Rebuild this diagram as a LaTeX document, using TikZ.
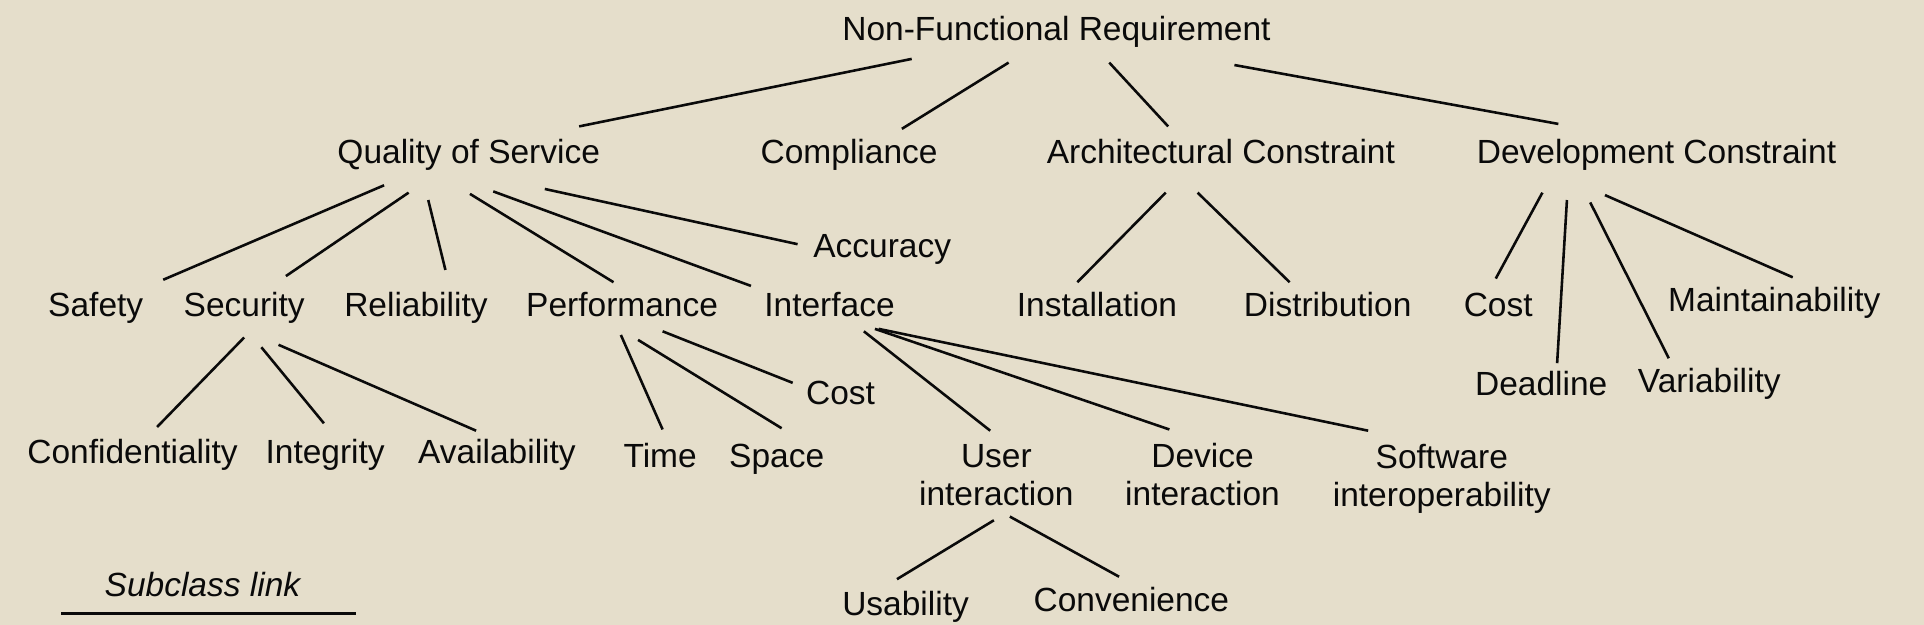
\documentclass[tikz,border=0pt]{standalone}
\usepackage{fontspec}
\setmainfont{Liberation Sans}
\definecolor{bg}{RGB}{229,222,203}
\definecolor{ink}{RGB}{10,10,10}
\begin{document}
\begin{tikzpicture}[x=1pt,y=-1pt,
  lbl/.style={inner sep=0pt,anchor=base,text=ink,font=\fontsize{27.3}{31}\selectfont},
  lbl2/.style={inner sep=0pt,anchor=center,align=center,text=ink,font=\fontsize{27.3}{31}\selectfont},
  link/.style={draw=ink,line width=2.1pt}]
\fill[bg] (0,0) rectangle (1568,509);
\useasboundingbox (0,0) rectangle (1568,509);
% nodes
\node[lbl] (nfr) at (861,33) {Non-Functional Requirement};
\node[lbl] (qos) at (382,133) {Quality of Service};
\node[lbl] (comp) at (692,133) {Compliance};
\node[lbl] (arch) at (995,133) {Architectural Constraint};
\node[lbl] (dev) at (1350,133) {Development Constraint};
\node[lbl] (safety) at (78,258) {Safety};
\node[lbl] (sec) at (199,258) {Security};
\node[lbl] (reli) at (339,258) {Reliability};
\node[lbl] (perf) at (507,258) {Performance};
\node[lbl] (iface) at (676,258) {Interface};
\node[lbl] (acc) at (719,210) {Accuracy};
\node[lbl] (inst) at (894,258) {Installation};
\node[lbl] (dist) at (1082,258) {Distribution};
\node[lbl] (dcost) at (1221,258) {Cost};
\node[lbl] (maint) at (1446,254) {Maintainability};
\node[lbl] (conf) at (108,378) {Confidentiality};
\node[lbl] (integ) at (265,378) {Integrity};
\node[lbl] (avail) at (405,378) {Availability};
\node[lbl] (time) at (538,381) {Time};
\node[lbl] (space) at (633,381) {Space};
\node[lbl] (pcost) at (685,330) {Cost};
\node[lbl] (deadl) at (1256,322) {Deadline};
\node[lbl] (vari) at (1393,320) {Variability};
\node[lbl2] (user) at (812,387) {User\\interaction};
\node[lbl2] (device) at (980,387) {Device\\interaction};
\node[lbl2] (soft) at (1175,390) {Software\\interoperability};
\node[lbl] (usab) at (738,502) {Usability};
\node[lbl] (conv) at (922,498) {Convenience};
\node[lbl,font=\fontsize{27.3}{31}\selectfont\itshape] (legend) at (165,486) {Subclass link};
\coordinate (legA) at (50,500);
\coordinate (legB) at (290,500);
% connectors
\draw[link] ([shift={(-118,15)}]nfr.base) -- ([shift={(90,-30)}]qos.base);
\draw[link] ([shift={(-39,18)}]nfr.base) -- ([shift={(43,-28)}]comp.base);
\draw[link] ([shift={(43,18)}]nfr.base) -- ([shift={(-43,-30)}]arch.base);
\draw[link] ([shift={(145,20)}]nfr.base) -- ([shift={(-80,-32)}]dev.base);
\draw[link] ([shift={(-69,18)}]qos.base) -- ([shift={(55,-30)}]safety.base);
\draw[link] ([shift={(-49,24)}]qos.base) -- ([shift={(34,-33)}]sec.base);
\draw[link] ([shift={(-33,30)}]qos.base) -- ([shift={(24,-38)}]reli.base);
\draw[link] ([shift={(1,25)}]qos.base) -- ([shift={(-7,-28)}]perf.base);
\draw[link] ([shift={(20,23)}]qos.base) -- ([shift={(-64,-25)}]iface.base);
\draw[link] ([shift={(62,21)}]qos.base) -- ([shift={(-69,-11)}]acc.base);
\draw[link] ([shift={(-45,24)}]arch.base) -- ([shift={(-16,-28)}]inst.base);
\draw[link] ([shift={(-19,24)}]arch.base) -- ([shift={(-31,-28)}]dist.base);
\draw[link] ([shift={(-93,24)}]dev.base) -- ([shift={(-2,-31)}]dcost.base);
\draw[link] ([shift={(-73,30)}]dev.base) -- ([shift={(13,-26)}]deadl.base);
\draw[link] ([shift={(-54,32)}]dev.base) -- ([shift={(-33,-28)}]vari.base);
\draw[link] ([shift={(-42,26)}]dev.base) -- ([shift={(15,-28)}]maint.base);
\draw[link] ([shift={(0,17)}]sec.base) -- ([shift={(20,-30)}]conf.base);
\draw[link] ([shift={(14,25)}]sec.base) -- ([shift={(-1,-33)}]integ.base);
\draw[link] ([shift={(28,23)}]sec.base) -- ([shift={(-17,-27)}]avail.base);
\draw[link] ([shift={(-1,15)}]perf.base) -- ([shift={(2,-31)}]time.base);
\draw[link] ([shift={(13,19)}]perf.base) -- ([shift={(4,-32)}]space.base);
\draw[link] ([shift={(33,12)}]perf.base) -- ([shift={(-39,-18)}]pcost.base);
\draw[link] ([shift={(28,12)}]iface.base) -- ([shift={(-5,-36)}]user.center);
\draw[link] ([shift={(37,10)}]iface.base) -- ([shift={(-27,-37)}]device.center);
\draw[link] ([shift={(40,10)}]iface.base) -- ([shift={(-60,-39)}]soft.center);
\draw[link] ([shift={(-2,37)}]user.center) -- ([shift={(-7,-30)}]usab.base);
\draw[link] ([shift={(11,34)}]user.center) -- ([shift={(-10,-28)}]conv.base);
\draw[link] (legA) -- (legB);
\end{tikzpicture}
\end{document}
